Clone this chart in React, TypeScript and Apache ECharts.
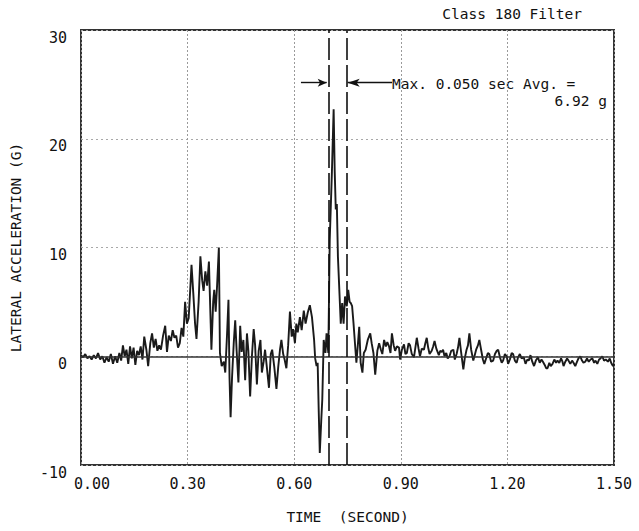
import React, { useEffect, useRef } from "react";
import * as echarts from "echarts";

// ---- data (time in s, lateral acceleration in G) ----
const preImpact: [number, number][] = [
  [0.000, 0.1], [0.006, -0.1], [0.012, 0.2], [0.018, -0.2], [0.024, 0.0], [0.030, -0.3],
  [0.036, 0.1], [0.042, -0.2], [0.048, 0.3], [0.054, -0.3], [0.060, 0.0], [0.066, -0.6],
  [0.072, -0.1], [0.078, -0.5], [0.084, 0.2], [0.090, -0.7], [0.096, 0.0], [0.102, -0.6],
  [0.108, 0.3], [0.113, -0.4], [0.118, 1.0], [0.123, 0.0], [0.128, 0.6], [0.133, -0.7],
  [0.138, 0.9], [0.143, -0.2], [0.148, 0.8], [0.153, -0.8], [0.158, 0.5], [0.163, 0.1],
  [0.168, 0.9], [0.173, -0.3], [0.178, 1.8], [0.184, 0.6], [0.189, -0.9], [0.195, 1.2],
  [0.200, 2.1], [0.205, 0.8], [0.210, 1.6], [0.215, 0.5], [0.220, 1.0], [0.225, 0.6],
  [0.231, 1.9], [0.237, 2.8], [0.242, 0.4], [0.247, 1.9], [0.253, 1.4], [0.258, 2.4],
  [0.263, 1.7], [0.268, 1.9], [0.273, 0.8], [0.278, 1.2], [0.283, 2.6], [0.288, 1.8],
];

const firstImpact: [number, number][] = [
  [0.293, 5.0], [0.298, 3.0], [0.303, 3.5], [0.308, 6.5], [0.311, 8.4], [0.316, 5.8],
  [0.321, 3.0], [0.325, 1.6], [0.331, 5.0], [0.336, 9.2], [0.341, 7.0], [0.345, 6.0],
  [0.350, 7.8], [0.355, 6.5], [0.360, 8.7], [0.365, 3.0], [0.367, 0.6], [0.372, 5.0],
  [0.375, 6.1], [0.379, 4.1], [0.383, 6.5], [0.388, 10.0], [0.391, 0.3], [0.396, -0.9],
  [0.402, -0.5], [0.406, -1.5], [0.411, 2.0], [0.415, 5.2], [0.418, -2.0], [0.421, -5.6],
  [0.425, -2.0], [0.430, 1.3], [0.434, 3.3], [0.438, 0.5], [0.443, -2.4], [0.448, 2.8],
  [0.452, 0.4], [0.457, 1.5], [0.462, -2.2], [0.467, 2.1], [0.471, 0.5], [0.476, -3.7],
  [0.481, 0.0], [0.486, 2.5], [0.490, 1.0], [0.495, -2.6], [0.500, 0.5], [0.505, 1.5],
  [0.509, -1.5], [0.514, -0.5], [0.518, 0.6], [0.523, -1.0], [0.529, -2.9], [0.534, 0.2],
  [0.538, 0.6], [0.544, -1.0], [0.550, -3.0], [0.555, -1.0], [0.560, 0.6], [0.564, 1.5],
  [0.569, 0.2], [0.573, -0.3], [0.578, -1.1], [0.583, 1.0], [0.588, 4.1], [0.593, 1.8],
  [0.597, 2.5], [0.602, 1.2], [0.606, 3.0], [0.610, 2.2], [0.616, 3.6], [0.621, 2.4],
  [0.627, 4.2], [0.632, 3.0], [0.638, 4.0], [0.644, 4.7], [0.650, 3.6], [0.656, 1.5],
];

const secondImpact: [number, number][] = [
  [0.659, -0.2], [0.663, -0.9], [0.666, -0.6], [0.669, -5.0], [0.672, -8.9], [0.676, -6.0],
  [0.679, -4.0], [0.683, 1.5], [0.688, 0.3], [0.691, 2.1], [0.696, 0.3], [0.700, 10.7],
  [0.706, 16.8], [0.711, 22.7], [0.714, 17.0], [0.717, 13.5], [0.720, 14.0], [0.723, 9.2],
  [0.727, 6.1], [0.731, 3.0], [0.735, 4.9], [0.739, 3.0], [0.743, 5.5], [0.748, 4.6],
  [0.752, 6.1], [0.756, 5.0], [0.759, 4.9], [0.763, 4.6], [0.767, 3.0], [0.771, 1.2],
  [0.775, -0.6], [0.779, 1.0], [0.783, 2.7], [0.787, -0.6], [0.792, -1.5], [0.796, 0.3],
];

const rundown: [number, number][] = [
  [0.801, 0.6], [0.807, 1.5], [0.814, 2.1], [0.818, 1.2], [0.823, 0.3], [0.828, -1.7],
  [0.834, 0.5], [0.839, 1.2], [0.844, 0.6], [0.848, 0.2], [0.853, 1.5], [0.858, 0.9],
  [0.862, 1.3], [0.867, 0.9], [0.871, 0.3], [0.875, 2.1], [0.880, 1.0], [0.884, 0.5],
  [0.889, 0.9], [0.895, 0.8], [0.898, -0.3], [0.903, 0.6], [0.909, 1.1], [0.913, 0.2],
  [0.917, 0.3], [0.922, 1.2], [0.926, 1.0], [0.931, 0.2], [0.937, -0.1], [0.941, 0.8],
  [0.945, 1.7], [0.950, 0.7], [0.954, 0.0], [0.959, 0.7], [0.965, 0.6], [0.969, 1.2],
  [0.973, 1.7], [0.977, 0.8], [0.981, 0.2], [0.987, 0.5], [0.991, 0.9], [0.995, 1.4],
  [1.000, 0.7], [1.007, 0.1], [1.011, 0.5], [1.015, 0.4], [1.019, 0.6], [1.023, 0.0],
  [1.028, 0.3], [1.032, -0.2], [1.037, 0.0], [1.042, 0.5], [1.048, 0.6], [1.052, -0.3],
  [1.057, 0.2], [1.061, 0.8], [1.065, 1.7], [1.070, 0.3], [1.076, -1.2], [1.080, -0.2],
  [1.085, 0.6], [1.089, 1.0], [1.093, 2.1], [1.098, 0.6], [1.104, -0.4], [1.108, 0.1],
  [1.112, 0.6], [1.117, 1.0], [1.121, 1.5], [1.126, 0.6], [1.131, -0.3], [1.135, -0.7],
  [1.140, -0.2], [1.145, 0.3], [1.149, 0.2], [1.154, -0.5], [1.160, -0.4], [1.165, 0.2],
  [1.170, 0.5], [1.174, 0.6], [1.179, -0.1], [1.184, -0.6], [1.188, -0.4], [1.193, 0.2],
  [1.198, 0.0], [1.202, -0.7], [1.207, -0.3], [1.212, 0.3], [1.216, 0.2], [1.221, -0.4],
  [1.226, -0.6], [1.230, -0.1], [1.235, 0.2], [1.240, -0.2], [1.246, -0.1], [1.251, -0.7],
  [1.256, -0.3], [1.260, -0.4], [1.265, 0.1], [1.270, -0.5], [1.275, -0.9], [1.280, -0.4],
  [1.286, -0.1], [1.291, -0.6], [1.296, -0.3], [1.300, -0.5], [1.305, -0.8], [1.309, -1.1],
  [1.313, -1.1], [1.318, -0.6], [1.322, -0.9], [1.327, -0.7], [1.332, -0.3], [1.337, -0.6],
  [1.341, -0.4], [1.346, -0.6], [1.351, -0.2], [1.355, -0.5], [1.358, -0.9], [1.363, -0.5],
  [1.368, -0.2], [1.372, -0.4], [1.377, -0.7], [1.382, -0.4], [1.386, -0.6], [1.391, -0.9],
  [1.396, -0.5], [1.400, -0.2], [1.405, 0.0], [1.410, -0.4], [1.414, -0.6], [1.419, -0.5],
  [1.424, -0.2], [1.429, -0.5], [1.434, -0.3], [1.439, -0.2], [1.444, -0.6], [1.448, -0.4],
  [1.453, -0.7], [1.458, -0.3], [1.462, -0.2], [1.467, 0.0], [1.472, -0.4], [1.477, -0.3],
  [1.483, -0.5], [1.488, -0.2], [1.492, -0.6], [1.497, -0.9], [1.500, -0.7],
];

const windowStart = 0.6975; // s, 0.050 s max-average window
const windowEnd = 0.7475;
const arrowLevel = 25.15; // G
const leftArrowFrom = 0.619;
const rightArrowFrom = 0.8755;

const xTicks = { min: 0, max: 1.5, interval: 0.3 };
const yTicks = { min: -10, max: 30, interval: 10 };

const FONT = "DejaVu Sans Mono";

export default function App() {
  const ref = useRef<HTMLDivElement>(null);

  useEffect(() => {
    if (!ref.current) return;
    const chart = echarts.init(ref.current, null, { renderer: "svg" });
    const series = [...preImpact, ...firstImpact, ...secondImpact, ...rundown];

    const dashedWin = { color: "#111", width: 1.6, type: [22, 5] as any };
    const arrowStyle = { color: "#111", width: 1.4, type: "solid" as const };

    chart.setOption({
      animation: false,
      backgroundColor: "#ffffff",
      textStyle: { fontFamily: FONT },
      grid: {
        left: 76,
        right: 25,
        top: 30,
        bottom: 66,
        show: true,
        borderColor: "#333",
        borderWidth: 2,
        backgroundColor: "transparent",
      },
      xAxis: {
        type: "value",
        min: xTicks.min,
        max: xTicks.max,
        interval: xTicks.interval,
        name: "TIME  (SECOND)",
        nameLocation: "middle",
        nameGap: 44,
        nameTextStyle: { fontFamily: FONT, fontSize: 14.5, color: "#111" },
        axisLine: { show: false },
        axisTick: { show: false },
        axisLabel: {
          fontFamily: FONT,
          fontSize: 15,
          color: "#111",
          margin: 11,
          formatter: (v: number) =>
            v === xTicks.min ? `{first|${v.toFixed(2)}}` : v.toFixed(2),
          rich: {
            first: {
              fontFamily: FONT,
              fontSize: 15,
              color: "#111",
              padding: [0, 0, 0, 22],
            },
          },
        },
        splitLine: {
          show: true,
          lineStyle: { color: "#9a9a9a", width: 1, type: [2, 2] },
        },
      },
      yAxis: {
        type: "value",
        min: yTicks.min,
        max: yTicks.max,
        interval: yTicks.interval,
        name: "LATERAL ACCELERATION (G)",
        nameLocation: "middle",
        nameGap: 58,
        nameRotate: 90,
        nameTextStyle: { fontFamily: FONT, fontSize: 14.5, color: "#111" },
        axisLine: { show: false },
        axisTick: { show: false },
        axisLabel: {
          fontFamily: FONT,
          fontSize: 15,
          color: "#111",
          margin: 14,
          verticalAlign: "top",
        },
        splitLine: {
          show: true,
          lineStyle: { color: "#a8a8a8", width: 1, type: [2, 3] },
        },
      },
      series: [
        {
          type: "line",
          data: series,
          showSymbol: false,
          symbol: "none",
          lineStyle: { color: "#1a1a1a", width: 1.9 },
          z: 3,
          markLine: {
            silent: true,
            symbol: "none",
            label: { show: false },
            data: [
              [
                { coord: [xTicks.min, 0], lineStyle: { color: "#333", width: 1.5, type: "solid" } },
                { coord: [xTicks.max, 0] },
              ],
              [
                { coord: [windowStart, yTicks.min], lineStyle: dashedWin },
                { coord: [windowStart, yTicks.max] },
              ],
              [
                { coord: [windowEnd, yTicks.min], lineStyle: dashedWin },
                { coord: [windowEnd, yTicks.max] },
              ],
              [
                { coord: [leftArrowFrom, arrowLevel], symbol: "none", lineStyle: arrowStyle },
                { coord: [windowStart - 0.006, arrowLevel], symbol: "arrow", symbolSize: [6, 9] },
              ],
              [
                { coord: [rightArrowFrom, arrowLevel], symbol: "none", lineStyle: arrowStyle },
                { coord: [windowEnd + 0.003, arrowLevel], symbol: "arrow", symbolSize: [6, 12] },
              ],
            ],
          },
        },
      ],
      graphic: [
        {
          type: "text",
          x: 582,
          y: 14,
          style: {
            text: "Class 180 Filter",
            font: `14.5px "${FONT}"`,
            fill: "#111",
            textAlign: "right",
            textVerticalAlign: "middle",
          },
        },
        {
          type: "text",
          x: 392,
          y: 84,
          style: {
            text: "Max. 0.050 sec Avg. =",
            font: `14.5px "${FONT}"`,
            fill: "#111",
            textAlign: "left",
            textVerticalAlign: "middle",
          },
        },
        {
          type: "text",
          x: 607,
          y: 101,
          style: {
            text: "6.92 g",
            font: `14.5px "${FONT}"`,
            fill: "#111",
            textAlign: "right",
            textVerticalAlign: "middle",
          },
        },
      ],
    });

    return () => chart.dispose();
  }, []);

  return (
    <div
      ref={ref}
      style={{ position: "fixed", left: 0, top: 0, width: 639, height: 531, background: "#fff" }}
    />
  );
}
